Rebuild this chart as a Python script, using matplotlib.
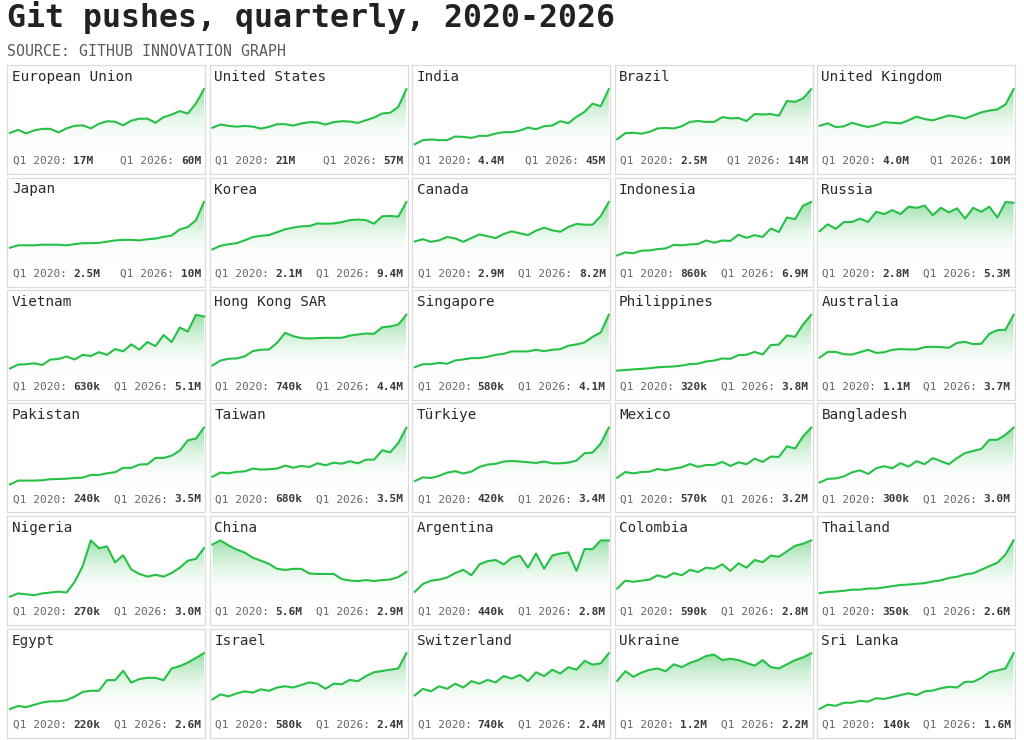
import matplotlib
matplotlib.use("Agg")
import matplotlib.pyplot as plt
import numpy as np
from matplotlib import font_manager
from matplotlib.colors import LinearSegmentedColormap
from matplotlib.patches import Polygon

# ---------------- data (millions of git pushes per quarter, Q1 2020 .. Q1 2026) -------------
european_union = [17, 20, 16.5, 19.5, 21, 21, 17.5, 21.5, 24, 24.5, 21.5, 26, 28.5, 28, 24.5, 29, 31, 31, 27, 32.5, 35, 38.5, 36, 46, 60]
united_states = [21, 24, 22.7, 22, 22.7, 22, 20.2, 21.8, 24.3, 24.3, 23, 25, 26.2, 26, 24, 26.2, 27.1, 26.8, 25.5, 28, 30.5, 34.3, 35, 40.5, 57]
india = [4.4, 7.4, 7.9, 7.4, 7.4, 10.1, 9.8, 9.1, 10.6, 10.6, 12.3, 13.3, 13.3, 14.5, 16.7, 15.5, 17.7, 18.2, 21.4, 19.9, 24.6, 28.3, 34.4, 32.4, 45]
brazil = [2.5, 3.9, 4.0, 3.8, 4.2, 5.0, 5.1, 5.0, 5.5, 6.5, 6.7, 6.5, 6.5, 7.6, 7.3, 7.4, 6.7, 8.3, 8.2, 8.3, 7.9, 11.3, 11.1, 11.9, 14]
united_kingdom = [4.0, 4.4, 3.8, 3.9, 4.5, 4.1, 3.8, 4.1, 4.6, 4.5, 4.4, 4.9, 5.5, 5.1, 4.9, 5.3, 5.7, 5.5, 5.2, 5.7, 6.2, 6.5, 6.7, 7.5, 10]
japan = [2.5, 2.9, 2.9, 2.9, 3.0, 3.0, 3.0, 2.9, 3.1, 3.25, 3.25, 3.3, 3.5, 3.7, 3.8, 3.8, 3.7, 3.9, 4.0, 4.3, 4.5, 5.5, 5.9, 7.0, 10]
korea = [2.1, 2.65, 2.9, 3.05, 3.5, 4.0, 4.2, 4.3, 4.75, 5.2, 5.45, 5.65, 5.7, 6.1, 6.05, 6.1, 6.3, 6.6, 6.7, 6.6, 6.05, 7.2, 7.25, 7.15, 9.4]
canada = [2.9, 3.2, 2.85, 3.05, 3.5, 3.3, 2.85, 3.35, 3.85, 3.6, 3.35, 3.9, 4.25, 4.0, 3.75, 4.35, 4.75, 4.4, 4.2, 4.85, 5.25, 5.15, 5.15, 6.3, 8.2]
indonesia = [0.86, 1.2, 1.1, 1.4, 1.42, 1.57, 1.65, 2.05, 2.0, 2.1, 2.15, 2.55, 2.3, 2.55, 2.5, 3.2, 2.85, 3.15, 2.95, 3.9, 3.5, 5.15, 4.95, 6.5, 6.9]
russia = [2.8, 3.4, 3.0, 3.6, 3.6, 3.9, 3.6, 4.5, 4.3, 4.65, 4.3, 4.95, 4.85, 5.05, 4.2, 4.85, 4.45, 4.8, 3.9, 4.85, 4.5, 4.95, 4.0, 5.36, 5.3]
vietnam = [0.63, 0.96, 1.0, 1.07, 0.93, 1.4, 1.44, 1.66, 1.4, 1.8, 1.7, 2.03, 1.8, 2.3, 2.1, 2.7, 2.25, 2.9, 2.55, 3.5, 2.9, 4.15, 3.8, 5.24, 5.1]
hong_kong = [0.74, 1.1, 1.23, 1.25, 1.4, 1.78, 1.88, 1.9, 2.38, 3.1, 2.86, 2.72, 2.69, 2.72, 2.74, 2.74, 2.74, 2.9, 2.98, 3.05, 3.03, 3.5, 3.56, 3.7, 4.4]
singapore = [0.58, 0.78, 0.78, 0.87, 0.81, 1.03, 1.1, 1.19, 1.19, 1.28, 1.41, 1.48, 1.64, 1.64, 1.64, 1.75, 1.66, 1.75, 1.79, 2.02, 2.11, 2.24, 2.62, 2.91, 4.1]
philippines = [0.32, 0.36, 0.4, 0.43, 0.47, 0.53, 0.56, 0.58, 0.64, 0.73, 0.75, 0.89, 0.95, 1.08, 1.06, 1.29, 1.31, 1.49, 1.33, 1.91, 1.95, 2.51, 2.43, 3.2, 3.8]
australia = [1.1, 1.45, 1.45, 1.31, 1.29, 1.43, 1.58, 1.39, 1.43, 1.58, 1.62, 1.6, 1.6, 1.74, 1.76, 1.74, 1.7, 2.0, 2.06, 1.92, 1.94, 2.55, 2.77, 2.79, 3.7]
pakistan = [0.24, 0.46, 0.46, 0.46, 0.48, 0.54, 0.55, 0.57, 0.61, 0.63, 0.78, 0.78, 0.88, 0.94, 1.19, 1.19, 1.38, 1.4, 1.76, 1.76, 1.89, 2.18, 2.77, 2.87, 3.5]
taiwan = [0.68, 0.92, 0.88, 0.96, 0.99, 1.15, 1.09, 1.11, 1.15, 1.32, 1.2, 1.3, 1.24, 1.45, 1.34, 1.49, 1.43, 1.57, 1.45, 1.66, 1.66, 2.2, 2.08, 2.62, 3.5]
turkiye = [0.42, 0.63, 0.59, 0.71, 0.89, 0.97, 0.84, 0.95, 1.21, 1.34, 1.38, 1.51, 1.54, 1.51, 1.47, 1.43, 1.51, 1.41, 1.41, 1.45, 1.56, 1.97, 2.01, 2.51, 3.4]
mexico = [0.57, 0.87, 0.8, 0.87, 0.89, 1.03, 0.96, 1.05, 1.12, 1.29, 1.14, 1.24, 1.24, 1.4, 1.19, 1.38, 1.28, 1.57, 1.4, 1.68, 1.66, 2.22, 2.1, 2.74, 3.2]
bangladesh = [0.3, 0.48, 0.5, 0.6, 0.8, 0.9, 0.72, 1.0, 1.1, 1.0, 1.25, 1.08, 1.35, 1.2, 1.5, 1.35, 1.2, 1.5, 1.75, 1.85, 1.95, 2.4, 2.4, 2.65, 3.0]
nigeria = [0.27, 0.45, 0.4, 0.35, 0.45, 0.5, 0.55, 0.5, 1.1, 2.0, 3.44, 3.0, 3.1, 2.2, 2.6, 1.8, 1.55, 1.4, 1.5, 1.4, 1.6, 1.9, 2.3, 2.4, 3.0]
china = [5.6, 6.0, 5.5, 5.1, 4.8, 4.3, 4.0, 3.7, 3.2, 3.1, 3.2, 3.2, 2.75, 2.7, 2.7, 2.7, 2.2, 2.05, 2.0, 2.1, 2.0, 2.1, 2.15, 2.4, 2.9]
argentina = [0.44, 0.8, 0.95, 1.0, 1.1, 1.3, 1.45, 1.2, 1.7, 1.85, 1.9, 1.7, 2.0, 2.1, 1.55, 2.2, 1.5, 2.1, 2.2, 2.25, 1.4, 2.4, 2.4, 2.8, 2.8]
colombia = [0.59, 0.95, 0.9, 0.95, 1.0, 1.2, 1.1, 1.3, 1.2, 1.45, 1.35, 1.55, 1.5, 1.7, 1.4, 1.75, 1.55, 1.9, 1.8, 2.1, 2.05, 2.3, 2.55, 2.65, 2.8]
thailand = [0.35, 0.4, 0.42, 0.45, 0.5, 0.5, 0.55, 0.55, 0.6, 0.65, 0.7, 0.72, 0.75, 0.78, 0.85, 0.9, 1.0, 1.05, 1.15, 1.2, 1.35, 1.5, 1.65, 2.0, 2.6]
egypt = [0.22, 0.35, 0.3, 0.4, 0.5, 0.55, 0.55, 0.6, 0.75, 0.95, 1.0, 1.0, 1.45, 1.45, 1.85, 1.35, 1.5, 1.55, 1.55, 1.45, 1.95, 2.05, 2.2, 2.4, 2.6]
israel = [0.58, 0.78, 0.7, 0.82, 0.9, 0.85, 0.98, 0.92, 1.05, 1.1, 1.05, 1.15, 1.25, 1.2, 1.0, 1.2, 1.18, 1.35, 1.3, 1.5, 1.65, 1.7, 1.75, 1.8, 2.4]
switzerland = [0.74, 1.0, 0.9, 1.1, 1.0, 1.2, 1.05, 1.3, 1.2, 1.35, 1.25, 1.5, 1.4, 1.55, 1.3, 1.65, 1.5, 1.75, 1.6, 1.85, 1.75, 2.1, 1.95, 2.0, 2.4]
ukraine = [1.2, 1.55, 1.35, 1.5, 1.6, 1.65, 1.55, 1.8, 1.7, 1.85, 1.95, 2.1, 2.15, 1.95, 2.0, 1.95, 1.85, 1.75, 1.95, 1.7, 1.65, 1.8, 1.95, 2.05, 2.2]
sri_lanka = [0.14, 0.25, 0.22, 0.3, 0.3, 0.35, 0.33, 0.42, 0.4, 0.45, 0.5, 0.55, 0.5, 0.6, 0.62, 0.68, 0.72, 0.7, 0.85, 0.85, 0.95, 1.1, 1.15, 1.2, 1.6]

countries = ["European Union", "United States", "India", "Brazil", "United Kingdom",
             "Japan", "Korea", "Canada", "Indonesia", "Russia",
             "Vietnam", "Hong Kong SAR", "Singapore", "Philippines", "Australia",
             "Pakistan", "Taiwan", "Türkiye", "Mexico", "Bangladesh",
             "Nigeria", "China", "Argentina", "Colombia", "Thailand",
             "Egypt", "Israel", "Switzerland", "Ukraine", "Sri Lanka"]
series = [european_union, united_states, india, brazil, united_kingdom,
          japan, korea, canada, indonesia, russia,
          vietnam, hong_kong, singapore, philippines, australia,
          pakistan, taiwan, turkiye, mexico, bangladesh,
          nigeria, china, argentina, colombia, thailand,
          egypt, israel, switzerland, ukraine, sri_lanka]
first_label = "Q1 2020:"
last_label = "Q1 2026:"
title = "Git pushes, quarterly, 2020-2026"
subtitle = "SOURCE: GITHUB INNOVATION GRAPH"


def has_font(name):
    try:
        font_manager.findfont(font_manager.FontProperties(family=name), fallback_to_default=False)
        return True
    except Exception:
        return False


MONO = "DejaVu Sans Mono"
COND = "Liberation Sans Narrow" if has_font("Liberation Sans Narrow") else MONO

W, H = 1024, 740
fig = plt.figure(figsize=(W / 100, H / 100), dpi=100)
fig.patch.set_facecolor("white")


def rect(x, y, w, h):
    return [x / W, 1 - (y + h) / H, w / W, h / H]


def fmt(v):
    if v >= 10:
        return f"{v:.0f}M"
    if v >= 1:
        return f"{v:.1f}M"
    return f"{v * 1000:.0f}k"


LINE = "#27c047"
cmap = LinearSegmentedColormap.from_list("g", [(1, 1, 1, 0), (0.20, 0.75, 0.32, 0.50)])
grad = np.linspace(1, 0, 256).reshape(-1, 1)

FS_NAME = 10.3
FS_FOOT = 8.0
ADV = 0.6021 * FS_FOOT * 100 / 72  # monospace advance in px

for i, (name, vals) in enumerate(zip(countries, series)):
    r, c = divmod(i, 5)
    left = 7.3 + 202.4 * c
    top = 64.7 + 112.8 * r
    box = fig.add_axes(rect(left, top, 198, 109.3))
    box.set_xlim(0, 198)
    box.set_ylim(109.3, 0)
    box.set_xticks([])
    box.set_yticks([])
    for s in box.spines.values():
        s.set_color("#dcdcdc")
        s.set_linewidth(0.9)
    box.patch.set_alpha(0)

    ax = fig.add_axes(rect(left + 2.7, top + 24.5, 194, 61))
    ax.axis("off")
    v = np.asarray(vals, dtype=float)
    x = np.arange(len(v))
    ymax = v.max()
    im = ax.imshow(grad, extent=[0, len(v) - 1, 0, ymax], aspect="auto", cmap=cmap,
                   vmin=0, vmax=1, origin="upper", interpolation="bilinear")
    poly = Polygon(np.column_stack([np.r_[x, x[::-1]], np.r_[v, np.zeros_like(v)]]),
                   closed=True, facecolor="none", edgecolor="none", transform=ax.transData)
    ax.add_patch(poly)
    im.set_clip_path(poly)
    ax.plot(x, v, color=LINE, lw=1.5, clip_on=False, solid_joinstyle="round")
    ax.set_xlim(0, len(v) - 1)
    ax.set_ylim(0, ymax)

    box.text(4.5, 16, name, fontsize=FS_NAME, family=[MONO, "DejaVu Sans"], color="#2a2a2a", va="baseline")
    # footer left
    box.text(5.4, 99.3, first_label, fontsize=FS_FOOT, family=MONO, color="#666666", va="baseline")
    box.text(5.4 + 9 * ADV, 99.3, fmt(v[0]), fontsize=FS_FOOT, family=MONO, weight="bold",
             color="#3a3a3a", va="baseline")
    # footer right
    lv = fmt(v[-1])
    box.text(193.7, 99.3, lv, fontsize=FS_FOOT, family=MONO, weight="bold", color="#3a3a3a",
             va="baseline", ha="right")
    box.text(193.7 - (len(lv) + 1) * ADV, 99.3, last_label, fontsize=FS_FOOT, family=MONO,
             color="#666666", va="baseline", ha="right")

renderer = fig.canvas.get_renderer()
t = fig.text(7 / W, 1 - 27.5 / H, title, fontsize=21, family=MONO, weight="bold", color="#222222",
             va="baseline", ha="left")
wd = t.get_window_extent(renderer).width
t.set_fontsize(21 * 605 / wd)

st = fig.text(7 / W, 1 - 56.5 / H, subtitle, fontsize=10, family=COND, color="#5a5a5a",
              va="baseline", ha="left")
wd = st.get_window_extent(renderer).width
st.set_fontsize(10 * 279 / wd)

fig.savefig("out.png", dpi=100, facecolor="white")
